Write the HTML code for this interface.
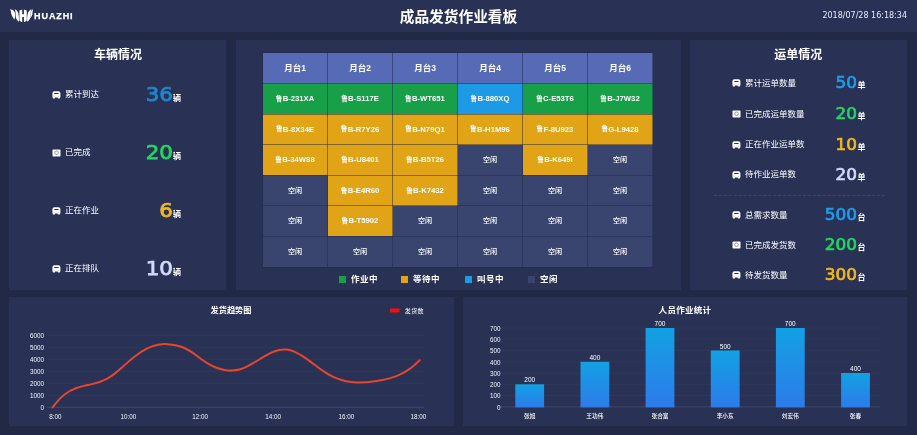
<!DOCTYPE html>
<html lang="zh-CN">
<head>
<meta charset="utf-8">
<title>成品发货作业看板</title>
<style>
*{margin:0;padding:0;box-sizing:border-box}
html,body{width:917px;height:435px;overflow:hidden;background:#222947}
body{position:relative;font-family:"Liberation Sans","Noto Sans CJK SC",sans-serif;color:#fff}
.abs{position:absolute}
#hdr{left:0;top:0;width:917px;height:32px;background:#293255}
#title{left:0;width:917px;top:6.8px;text-align:center;font-size:14.7px;font-weight:bold;line-height:20px}
#date{right:10px;top:11.4px;font-size:8px;line-height:10px;color:#e8ebf5;font-family:"DejaVu Sans","Liberation Sans",sans-serif}
#brand{left:34.1px;top:10.5px;font-size:9px;font-weight:bold;letter-spacing:0.9px;line-height:10px;-webkit-text-stroke:0.25px #fff}
.panel{position:absolute;background:#293255}
.ptitle{position:absolute;text-align:center;font-size:12px;line-height:16px;font-weight:700;width:120px}
.lb{position:absolute;font-size:8.5px;line-height:10px;white-space:nowrap}
.num{position:absolute;text-align:right;white-space:nowrap;font-family:"DejaVu Sans","Liberation Sans",sans-serif;width:80px}
.n1{font-size:18.8px;line-height:22px;-webkit-text-stroke:0.75px currentColor;transform:scaleX(1.14);transform-origin:100% 50%}
.n2{font-size:15.2px;line-height:18px;-webkit-text-stroke:0.65px currentColor;transform:scaleX(1.11);transform-origin:100% 50%}
.unit{position:absolute;font-size:8px;line-height:9px;font-weight:bold;white-space:nowrap}
.ic{position:absolute}
table{border-collapse:collapse;position:absolute;left:262px;top:52px;table-layout:fixed}
td{width:65px;height:30.6px;text-align:center;font-size:7.7px;font-weight:bold;border:1px solid rgba(32,40,78,0.5);padding:0 0 1.5px 0;white-space:nowrap}
tr.h td{height:31px;background:#566ab5;font-size:8.5px;padding-bottom:2px}
.t{display:inline-block}
.lu{font-size:6.6px;letter-spacing:0.3px;position:relative;top:-0.2px}
td.g{background:#18a049}
td.o{background:#e0a416}
td.b{background:#1d9ae6}
td.i{background:#39456f;font-weight:500;font-size:7.1px}
.lg{position:absolute;top:274px;font-size:8.5px;line-height:10px;font-weight:700;letter-spacing:0.5px}
.lg i{position:absolute;left:-12px;top:2px;width:7px;height:7px}
.c{color:#1c88cf}.c2{color:#1b9fee}.g2{color:#22d75f}.y{color:#f4b81f}.w{color:#d5dbfa}
</style>
</head>
<body>
<div id="hdr" class="abs"></div>
<svg class="abs" style="left:9.8px;top:8.8px" width="23.2" height="13.6" viewBox="55 55 266 156">
<g fill="#fff">
<path d="M55 57 C95 58 114 85 114 125 C114 150 110 165 103 178 C92 152 72 134 68 102 C66 82 63 69 55 57Z"/>
<path d="M110 58 C146 68 160 110 158 200 C136 186 120 164 120 132 C120 100 118 78 110 58Z"/>
<path d="M163 72 L195 60 L195 116 L215 116 L215 60 L247 72 L247 188 L215 212 L215 148 L195 148 L195 212 L163 188Z"/>
<path d="M302 58 C266 68 250 110 252 200 C274 186 292 164 292 132 C292 100 294 78 302 58Z"/>
<path d="M322 56 C300 62 294 82 294 112 C294 132 292 146 288 158 C304 142 312 122 313 100 C314 82 316 68 322 56Z"/>
</g>
</svg>
<div id="brand" class="abs">HUAZHI</div>
<div id="title" class="abs">成品发货作业看板</div>
<div id="date" class="abs">2018/07/28 16:18:34</div>
<div class="panel" style="left:9.2px;top:40px;width:217.3px;height:249.7px"></div>
<div class="panel" style="left:236px;top:40px;width:445px;height:249.7px"></div>
<div class="panel" style="left:689.7px;top:40px;width:217.6px;height:249.7px"></div>
<div class="panel" style="left:9.2px;top:297px;width:444.8px;height:129px"></div>
<div class="panel" style="left:463.4px;top:297px;width:444px;height:129px"></div>
<div class="ptitle" style="left:58px;top:47px">车辆情况</div>
<div class="ptitle" style="left:738.3px;top:47px">运单情况</div>
<svg class="ic" style="left:51.8px;top:90.5px" width="9" height="8" viewBox="0 0 9 8"><path fill="#fff" fill-rule="evenodd" d="M2.4 0.3 H6.4 Q8.4 0.3 8.4 2.3 V6.6 H7.9 V7.1 Q7.9 7.6 7.4 7.6 H6.3 Q5.8 7.6 5.8 7.1 V6.6 H3 V7.1 Q3 7.6 2.5 7.6 H1.4 Q0.9 7.6 0.9 7.1 V6.6 H0.4 V2.3 Q0.4 0.3 2.4 0.3Z M2.5 2.1 Q2.2 2.1 2.2 2.6 Q2.2 3.1 2.5 3.1 H6.3 Q6.6 3.1 6.6 2.6 Q6.6 2.1 6.3 2.1Z"/><circle cx="2" cy="5.2" r="0.45" fill="#8b90a8"/><circle cx="6.8" cy="5.2" r="0.45" fill="#8b90a8"/></svg><div class="lb" style="left:65px;top:89.3px">累计到达</div><div class="num n1 c" style="left:92.5px;top:83.6px">36</div><div class="unit" style="left:173.1px;top:94.4px">辆</div>
<svg class="ic" style="left:51.8px;top:148.5px" width="9" height="8" viewBox="0 0 9 8"><rect x="0.5" y="0.4" width="8" height="7.2" rx="0.8" fill="#fff"/><circle cx="4.5" cy="3.7" r="1.75" fill="none" stroke="#7f849a" stroke-width="0.85"/></svg><div class="lb" style="left:65px;top:147.3px">已完成</div><div class="num n1 g2" style="left:92.5px;top:141.6px">20</div><div class="unit" style="left:173.1px;top:152.4px">辆</div>
<svg class="ic" style="left:51.8px;top:206.5px" width="9" height="8" viewBox="0 0 9 8"><path fill="#fff" fill-rule="evenodd" d="M2.4 0.3 H6.4 Q8.4 0.3 8.4 2.3 V6.6 H7.9 V7.1 Q7.9 7.6 7.4 7.6 H6.3 Q5.8 7.6 5.8 7.1 V6.6 H3 V7.1 Q3 7.6 2.5 7.6 H1.4 Q0.9 7.6 0.9 7.1 V6.6 H0.4 V2.3 Q0.4 0.3 2.4 0.3Z M2.5 2.1 Q2.2 2.1 2.2 2.6 Q2.2 3.1 2.5 3.1 H6.3 Q6.6 3.1 6.6 2.6 Q6.6 2.1 6.3 2.1Z"/><circle cx="2" cy="5.2" r="0.45" fill="#8b90a8"/><circle cx="6.8" cy="5.2" r="0.45" fill="#8b90a8"/></svg><div class="lb" style="left:65px;top:205.3px">正在作业</div><div class="num n1 y" style="left:92.5px;top:199.6px">6</div><div class="unit" style="left:173.1px;top:210.4px">辆</div>
<svg class="ic" style="left:51.8px;top:264.5px" width="9" height="8" viewBox="0 0 9 8"><path fill="#fff" fill-rule="evenodd" d="M2.4 0.3 H6.4 Q8.4 0.3 8.4 2.3 V6.6 H7.9 V7.1 Q7.9 7.6 7.4 7.6 H6.3 Q5.8 7.6 5.8 7.1 V6.6 H3 V7.1 Q3 7.6 2.5 7.6 H1.4 Q0.9 7.6 0.9 7.1 V6.6 H0.4 V2.3 Q0.4 0.3 2.4 0.3Z M2.5 2.1 Q2.2 2.1 2.2 2.6 Q2.2 3.1 2.5 3.1 H6.3 Q6.6 3.1 6.6 2.6 Q6.6 2.1 6.3 2.1Z"/><circle cx="2" cy="5.2" r="0.45" fill="#8b90a8"/><circle cx="6.8" cy="5.2" r="0.45" fill="#8b90a8"/></svg><div class="lb" style="left:65px;top:263.3px">正在排队</div><div class="num n1 w" style="left:92.5px;top:257.6px">10</div><div class="unit" style="left:173.1px;top:268.4px">辆</div>
<svg class="ic" style="left:732.0px;top:79.0px" width="9" height="8" viewBox="0 0 9 8"><path fill="#fff" fill-rule="evenodd" d="M2.4 0.3 H6.4 Q8.4 0.3 8.4 2.3 V6.6 H7.9 V7.1 Q7.9 7.6 7.4 7.6 H6.3 Q5.8 7.6 5.8 7.1 V6.6 H3 V7.1 Q3 7.6 2.5 7.6 H1.4 Q0.9 7.6 0.9 7.1 V6.6 H0.4 V2.3 Q0.4 0.3 2.4 0.3Z M2.5 2.1 Q2.2 2.1 2.2 2.6 Q2.2 3.1 2.5 3.1 H6.3 Q6.6 3.1 6.6 2.6 Q6.6 2.1 6.3 2.1Z"/><circle cx="2" cy="5.2" r="0.45" fill="#8b90a8"/><circle cx="6.8" cy="5.2" r="0.45" fill="#8b90a8"/></svg><div class="lb" style="left:745px;top:77.8px">累计运单数量</div><div class="num n2 c2" style="left:777.0px;top:74.0px">50</div><div class="unit" style="left:857.6px;top:81.1px">单</div>
<svg class="ic" style="left:732.0px;top:110.0px" width="9" height="8" viewBox="0 0 9 8"><rect x="0.5" y="0.4" width="8" height="7.2" rx="0.8" fill="#fff"/><circle cx="4.5" cy="3.7" r="1.75" fill="none" stroke="#7f849a" stroke-width="0.85"/></svg><div class="lb" style="left:745px;top:108.8px">已完成运单数量</div><div class="num n2 g2" style="left:777.0px;top:105.0px">20</div><div class="unit" style="left:857.6px;top:112.1px">单</div>
<svg class="ic" style="left:732.0px;top:140.5px" width="9" height="8" viewBox="0 0 9 8"><path fill="#fff" fill-rule="evenodd" d="M2.4 0.3 H6.4 Q8.4 0.3 8.4 2.3 V6.6 H7.9 V7.1 Q7.9 7.6 7.4 7.6 H6.3 Q5.8 7.6 5.8 7.1 V6.6 H3 V7.1 Q3 7.6 2.5 7.6 H1.4 Q0.9 7.6 0.9 7.1 V6.6 H0.4 V2.3 Q0.4 0.3 2.4 0.3Z M2.5 2.1 Q2.2 2.1 2.2 2.6 Q2.2 3.1 2.5 3.1 H6.3 Q6.6 3.1 6.6 2.6 Q6.6 2.1 6.3 2.1Z"/><circle cx="2" cy="5.2" r="0.45" fill="#8b90a8"/><circle cx="6.8" cy="5.2" r="0.45" fill="#8b90a8"/></svg><div class="lb" style="left:745px;top:139.3px">正在作业运单数</div><div class="num n2 y" style="left:777.0px;top:135.5px">10</div><div class="unit" style="left:857.6px;top:142.6px">单</div>
<svg class="ic" style="left:732.0px;top:170.5px" width="9" height="8" viewBox="0 0 9 8"><path fill="#fff" fill-rule="evenodd" d="M2.4 0.3 H6.4 Q8.4 0.3 8.4 2.3 V6.6 H7.9 V7.1 Q7.9 7.6 7.4 7.6 H6.3 Q5.8 7.6 5.8 7.1 V6.6 H3 V7.1 Q3 7.6 2.5 7.6 H1.4 Q0.9 7.6 0.9 7.1 V6.6 H0.4 V2.3 Q0.4 0.3 2.4 0.3Z M2.5 2.1 Q2.2 2.1 2.2 2.6 Q2.2 3.1 2.5 3.1 H6.3 Q6.6 3.1 6.6 2.6 Q6.6 2.1 6.3 2.1Z"/><circle cx="2" cy="5.2" r="0.45" fill="#8b90a8"/><circle cx="6.8" cy="5.2" r="0.45" fill="#8b90a8"/></svg><div class="lb" style="left:745px;top:169.3px">待作业运单数</div><div class="num n2 w" style="left:777.0px;top:165.5px">20</div><div class="unit" style="left:857.6px;top:172.6px">单</div>
<svg class="ic" style="left:732.0px;top:211.3px" width="9" height="8" viewBox="0 0 9 8"><path fill="#fff" fill-rule="evenodd" d="M2.4 0.3 H6.4 Q8.4 0.3 8.4 2.3 V6.6 H7.9 V7.1 Q7.9 7.6 7.4 7.6 H6.3 Q5.8 7.6 5.8 7.1 V6.6 H3 V7.1 Q3 7.6 2.5 7.6 H1.4 Q0.9 7.6 0.9 7.1 V6.6 H0.4 V2.3 Q0.4 0.3 2.4 0.3Z M2.5 2.1 Q2.2 2.1 2.2 2.6 Q2.2 3.1 2.5 3.1 H6.3 Q6.6 3.1 6.6 2.6 Q6.6 2.1 6.3 2.1Z"/><circle cx="2" cy="5.2" r="0.45" fill="#8b90a8"/><circle cx="6.8" cy="5.2" r="0.45" fill="#8b90a8"/></svg><div class="lb" style="left:745px;top:210.1px">总需求数量</div><div class="num n2 c2" style="left:777.0px;top:206.3px">500</div><div class="unit" style="left:857.6px;top:213.4px">台</div>
<svg class="ic" style="left:732.0px;top:240.8px" width="9" height="8" viewBox="0 0 9 8"><rect x="0.5" y="0.4" width="8" height="7.2" rx="0.8" fill="#fff"/><circle cx="4.5" cy="3.7" r="1.75" fill="none" stroke="#7f849a" stroke-width="0.85"/></svg><div class="lb" style="left:745px;top:239.6px">已完成发货数</div><div class="num n2 g2" style="left:777.0px;top:235.8px">200</div><div class="unit" style="left:857.6px;top:242.9px">台</div>
<svg class="ic" style="left:732.0px;top:270.8px" width="9" height="8" viewBox="0 0 9 8"><path fill="#fff" fill-rule="evenodd" d="M2.4 0.3 H6.4 Q8.4 0.3 8.4 2.3 V6.6 H7.9 V7.1 Q7.9 7.6 7.4 7.6 H6.3 Q5.8 7.6 5.8 7.1 V6.6 H3 V7.1 Q3 7.6 2.5 7.6 H1.4 Q0.9 7.6 0.9 7.1 V6.6 H0.4 V2.3 Q0.4 0.3 2.4 0.3Z M2.5 2.1 Q2.2 2.1 2.2 2.6 Q2.2 3.1 2.5 3.1 H6.3 Q6.6 3.1 6.6 2.6 Q6.6 2.1 6.3 2.1Z"/><circle cx="2" cy="5.2" r="0.45" fill="#8b90a8"/><circle cx="6.8" cy="5.2" r="0.45" fill="#8b90a8"/></svg><div class="lb" style="left:745px;top:269.6px">待发货数量</div><div class="num n2 y" style="left:777.0px;top:265.8px">300</div><div class="unit" style="left:857.6px;top:272.9px">台</div>

<div class="abs" style="left:714px;top:195px;width:171px;height:0;border-top:1px dashed #3c4669"></div>
<table>
<tr class="h"><td>月台1</td><td>月台2</td><td>月台3</td><td>月台4</td><td>月台5</td><td>月台6</td></tr>
<tr><td class="g"><span class="t"><span class="lu">鲁</span>B-231XA</span></td><td class="g"><span class="t"><span class="lu">鲁</span>B-S117E</span></td><td class="g"><span class="t"><span class="lu">鲁</span>B-WT651</span></td><td class="b"><span class="t"><span class="lu">鲁</span>B-880XQ</span></td><td class="g"><span class="t"><span class="lu">鲁</span>C-E53T6</span></td><td class="g"><span class="t"><span class="lu">鲁</span>B-J7W32</span></td></tr>
<tr><td class="o"><span class="t"><span class="lu">鲁</span>B-8X34E</span></td><td class="o"><span class="t"><span class="lu">鲁</span>B-R7Y26</span></td><td class="o"><span class="t"><span class="lu">鲁</span>B-N79Q1</span></td><td class="o"><span class="t"><span class="lu">鲁</span>B-H1M96</span></td><td class="o"><span class="t"><span class="lu">鲁</span>F-8U923</span></td><td class="o"><span class="t"><span class="lu">鲁</span>G-L9428</span></td></tr>
<tr><td class="o"><span class="t"><span class="lu">鲁</span>B-34W88</span></td><td class="o"><span class="t"><span class="lu">鲁</span>B-U8401</span></td><td class="o"><span class="t"><span class="lu">鲁</span>B-B5T26</span></td><td class="i"><span class="t">空闲</span></td><td class="o"><span class="t"><span class="lu">鲁</span>B-K649I</span></td><td class="i"><span class="t">空闲</span></td></tr>
<tr><td class="i"><span class="t">空闲</span></td><td class="o"><span class="t"><span class="lu">鲁</span>B-E4R60</span></td><td class="o"><span class="t"><span class="lu">鲁</span>B-K7432</span></td><td class="i"><span class="t">空闲</span></td><td class="i"><span class="t">空闲</span></td><td class="i"><span class="t">空闲</span></td></tr>
<tr><td class="i"><span class="t">空闲</span></td><td class="o"><span class="t"><span class="lu">鲁</span>B-T5902</span></td><td class="i"><span class="t">空闲</span></td><td class="i"><span class="t">空闲</span></td><td class="i"><span class="t">空闲</span></td><td class="i"><span class="t">空闲</span></td></tr>
<tr><td class="i"><span class="t">空闲</span></td><td class="i"><span class="t">空闲</span></td><td class="i"><span class="t">空闲</span></td><td class="i"><span class="t">空闲</span></td><td class="i"><span class="t">空闲</span></td><td class="i"><span class="t">空闲</span></td></tr>
</table>

<div class="lg" style="left:351px"><i style="background:#18a049"></i>作业中</div>
<div class="lg" style="left:413px"><i style="background:#e0a416"></i>等待中</div>
<div class="lg" style="left:477px"><i style="background:#1d9ae6"></i>叫号中</div>
<div class="lg" style="left:540px"><i style="background:#39456f"></i>空闲</div>
<svg class="abs" style="left:0;top:296px" width="917" height="139" viewBox="0 296 917 139" font-family="'Liberation Sans','Noto Sans CJK SC',sans-serif">
<defs><linearGradient id="bg" x1="0" y1="0" x2="0" y2="1"><stop offset="0" stop-color="#12a1e3"/><stop offset="1" stop-color="#2d7bea"/></linearGradient></defs>
<line x1="47" x2="424" y1="407.3" y2="407.3" stroke="#4a5478" stroke-width="0.6"/>
<text x="44" y="409.8" font-size="6.3" fill="#f2f4fa" text-anchor="end">0</text>
<line x1="47" x2="424" y1="395.3" y2="395.3" stroke="#313a5d" stroke-width="0.6"/>
<text x="44" y="397.8" font-size="6.3" fill="#f2f4fa" text-anchor="end">1000</text>
<line x1="47" x2="424" y1="383.3" y2="383.3" stroke="#313a5d" stroke-width="0.6"/>
<text x="44" y="385.8" font-size="6.3" fill="#f2f4fa" text-anchor="end">2000</text>
<line x1="47" x2="424" y1="371.3" y2="371.3" stroke="#313a5d" stroke-width="0.6"/>
<text x="44" y="373.8" font-size="6.3" fill="#f2f4fa" text-anchor="end">3000</text>
<line x1="47" x2="424" y1="359.3" y2="359.3" stroke="#313a5d" stroke-width="0.6"/>
<text x="44" y="361.8" font-size="6.3" fill="#f2f4fa" text-anchor="end">4000</text>
<line x1="47" x2="424" y1="347.3" y2="347.3" stroke="#313a5d" stroke-width="0.6"/>
<text x="44" y="349.8" font-size="6.3" fill="#f2f4fa" text-anchor="end">5000</text>
<line x1="47" x2="424" y1="335.3" y2="335.3" stroke="#313a5d" stroke-width="0.6"/>
<text x="44" y="337.8" font-size="6.3" fill="#f2f4fa" text-anchor="end">6000</text>
<line x1="52.0" x2="52.0" y1="407.3" y2="409.3" stroke="#4a5478" stroke-width="0.6"/>
<text x="55.4" y="418.6" font-size="6.3" fill="#f2f4fa" text-anchor="middle">8:00</text>
<line x1="125.4" x2="125.4" y1="407.3" y2="409.3" stroke="#4a5478" stroke-width="0.6"/>
<text x="128.5" y="418.6" font-size="6.3" fill="#f2f4fa" text-anchor="middle">10:00</text>
<line x1="198.8" x2="198.8" y1="407.3" y2="409.3" stroke="#4a5478" stroke-width="0.6"/>
<text x="200.2" y="418.6" font-size="6.3" fill="#f2f4fa" text-anchor="middle">12:00</text>
<line x1="272.2" x2="272.2" y1="407.3" y2="409.3" stroke="#4a5478" stroke-width="0.6"/>
<text x="273.2" y="418.6" font-size="6.3" fill="#f2f4fa" text-anchor="middle">14:00</text>
<line x1="345.6" x2="345.6" y1="407.3" y2="409.3" stroke="#4a5478" stroke-width="0.6"/>
<text x="346.5" y="418.6" font-size="6.3" fill="#f2f4fa" text-anchor="middle">16:00</text>
<line x1="419.0" x2="419.0" y1="407.3" y2="409.3" stroke="#4a5478" stroke-width="0.6"/>
<text x="418.5" y="418.6" font-size="6.3" fill="#f2f4fa" text-anchor="middle">18:00</text>
<path d="M52.6 407.3 C53.9 405.8 57.8 400.7 60.4 398.1 C63.0 395.6 65.6 393.6 68.2 392.0 C70.8 390.4 73.4 389.3 76.0 388.3 C78.6 387.3 81.2 386.6 83.8 385.9 C86.4 385.2 89.1 384.8 91.7 384.1 C94.3 383.5 96.9 382.9 99.5 382.0 C102.1 381.1 104.7 380.0 107.3 378.6 C109.9 377.2 112.5 375.4 115.1 373.4 C117.7 371.4 120.3 369.0 122.9 366.7 C125.5 364.4 128.1 362.0 130.7 359.8 C133.3 357.6 135.9 355.5 138.5 353.7 C141.1 351.9 143.7 350.2 146.3 348.9 C148.9 347.6 151.5 346.5 154.1 345.7 C156.7 344.9 159.3 344.4 161.9 344.2 C164.5 344.0 167.2 344.1 169.8 344.4 C172.4 344.7 175.0 345.1 177.6 345.8 C180.2 346.5 182.8 347.3 185.4 348.5 C188.0 349.7 190.6 351.4 193.2 353.1 C195.8 354.9 198.4 357.2 201.0 359.0 C203.6 360.8 206.2 362.6 208.8 364.1 C211.4 365.6 214.0 366.8 216.6 367.8 C219.2 368.8 221.8 369.5 224.4 370.0 C227.0 370.5 229.6 370.7 232.2 370.6 C234.8 370.5 237.5 370.1 240.1 369.3 C242.7 368.6 245.3 367.4 247.9 366.1 C250.5 364.8 253.1 363.1 255.7 361.6 C258.3 360.1 260.9 358.4 263.5 356.9 C266.1 355.4 268.7 353.9 271.3 352.7 C273.9 351.5 276.5 350.4 279.1 349.9 C281.7 349.4 284.3 349.3 286.9 349.6 C289.5 349.9 292.1 350.8 294.7 351.9 C297.3 353.0 299.9 354.6 302.5 356.2 C305.1 357.8 307.8 359.7 310.4 361.6 C313.0 363.5 315.6 365.6 318.2 367.5 C320.8 369.4 323.4 371.3 326.0 372.9 C328.6 374.5 331.2 376.0 333.8 377.2 C336.4 378.4 339.0 379.2 341.6 380.0 C344.2 380.8 346.8 381.3 349.4 381.7 C352.0 382.1 354.6 382.3 357.2 382.4 C359.8 382.5 362.4 382.4 365.0 382.3 C367.6 382.2 370.2 381.8 372.8 381.5 C375.4 381.2 378.0 380.8 380.6 380.3 C383.2 379.8 385.9 379.3 388.5 378.6 C391.1 377.9 393.7 377.1 396.3 376.1 C398.9 375.1 401.5 373.9 404.1 372.4 C406.7 370.9 409.3 369.2 411.9 367.2 C414.5 365.2 418.4 361.4 419.7 360.2" fill="none" stroke="#e9452d" stroke-width="2" stroke-linecap="round" stroke-linejoin="round"/>
<text x="231" y="313" font-size="8.2" font-weight="bold" fill="#fff" text-anchor="middle">发货趋势图</text>
<rect x="390" y="308.5" width="9.5" height="4" rx="0.8" fill="#fb0d0d"/>
<text x="404.8" y="312.7" font-size="6" letter-spacing="0.35" fill="#fff">发货数</text>
<line x1="497" x2="880" y1="406.8" y2="406.8" stroke="#4a5478" stroke-width="0.6"/>
<text x="500.6" y="409.6" font-size="6.3" fill="#f2f4fa" text-anchor="end">0</text>
<line x1="497" x2="880" y1="395.5" y2="395.5" stroke="#313a5d" stroke-width="0.6"/>
<text x="500.6" y="398.3" font-size="6.3" fill="#f2f4fa" text-anchor="end">100</text>
<line x1="497" x2="880" y1="384.3" y2="384.3" stroke="#313a5d" stroke-width="0.6"/>
<text x="500.6" y="387.1" font-size="6.3" fill="#f2f4fa" text-anchor="end">200</text>
<line x1="497" x2="880" y1="373.0" y2="373.0" stroke="#313a5d" stroke-width="0.6"/>
<text x="500.6" y="375.8" font-size="6.3" fill="#f2f4fa" text-anchor="end">300</text>
<line x1="497" x2="880" y1="361.8" y2="361.8" stroke="#313a5d" stroke-width="0.6"/>
<text x="500.6" y="364.6" font-size="6.3" fill="#f2f4fa" text-anchor="end">400</text>
<line x1="497" x2="880" y1="350.5" y2="350.5" stroke="#313a5d" stroke-width="0.6"/>
<text x="500.6" y="353.3" font-size="6.3" fill="#f2f4fa" text-anchor="end">500</text>
<line x1="497" x2="880" y1="339.2" y2="339.2" stroke="#313a5d" stroke-width="0.6"/>
<text x="500.6" y="342.0" font-size="6.3" fill="#f2f4fa" text-anchor="end">600</text>
<line x1="497" x2="880" y1="328.0" y2="328.0" stroke="#313a5d" stroke-width="0.6"/>
<text x="500.6" y="330.8" font-size="6.3" fill="#f2f4fa" text-anchor="end">700</text>
<rect x="515.3" y="384.3" width="28.8" height="23.1" fill="url(#bg)"/>
<text x="529.7" y="382.4" font-size="6.5" fill="#fff" text-anchor="middle">200</text>
<text x="529.7" y="417.6" font-size="5.7" font-weight="500" fill="#fff" text-anchor="middle">张旭</text>
<rect x="580.5" y="361.8" width="28.8" height="45.6" fill="url(#bg)"/>
<text x="594.9" y="359.9" font-size="6.5" fill="#fff" text-anchor="middle">400</text>
<text x="594.9" y="417.6" font-size="5.7" font-weight="500" fill="#fff" text-anchor="middle">王功伟</text>
<rect x="645.6" y="328.0" width="28.8" height="79.4" fill="url(#bg)"/>
<text x="660.0" y="326.1" font-size="6.5" fill="#fff" text-anchor="middle">700</text>
<text x="660.0" y="417.6" font-size="5.7" font-weight="500" fill="#fff" text-anchor="middle">张合富</text>
<rect x="710.8" y="350.5" width="28.8" height="56.9" fill="url(#bg)"/>
<text x="725.2" y="348.6" font-size="6.5" fill="#fff" text-anchor="middle">500</text>
<text x="725.2" y="417.6" font-size="5.7" font-weight="500" fill="#fff" text-anchor="middle">李小东</text>
<rect x="775.9" y="328.0" width="28.8" height="79.4" fill="url(#bg)"/>
<text x="790.3" y="326.1" font-size="6.5" fill="#fff" text-anchor="middle">700</text>
<text x="790.3" y="417.6" font-size="5.7" font-weight="500" fill="#fff" text-anchor="middle">刘宏伟</text>
<rect x="841.1" y="373.0" width="28.8" height="34.4" fill="url(#bg)"/>
<text x="855.5" y="371.1" font-size="6.5" fill="#fff" text-anchor="middle">400</text>
<text x="855.5" y="417.6" font-size="5.7" font-weight="500" fill="#fff" text-anchor="middle">张春</text>
<text x="685" y="313" font-size="8.5" font-weight="bold" fill="#fff" text-anchor="middle" letter-spacing="0.3">人员作业统计</text>
</svg>

</body>
</html>
